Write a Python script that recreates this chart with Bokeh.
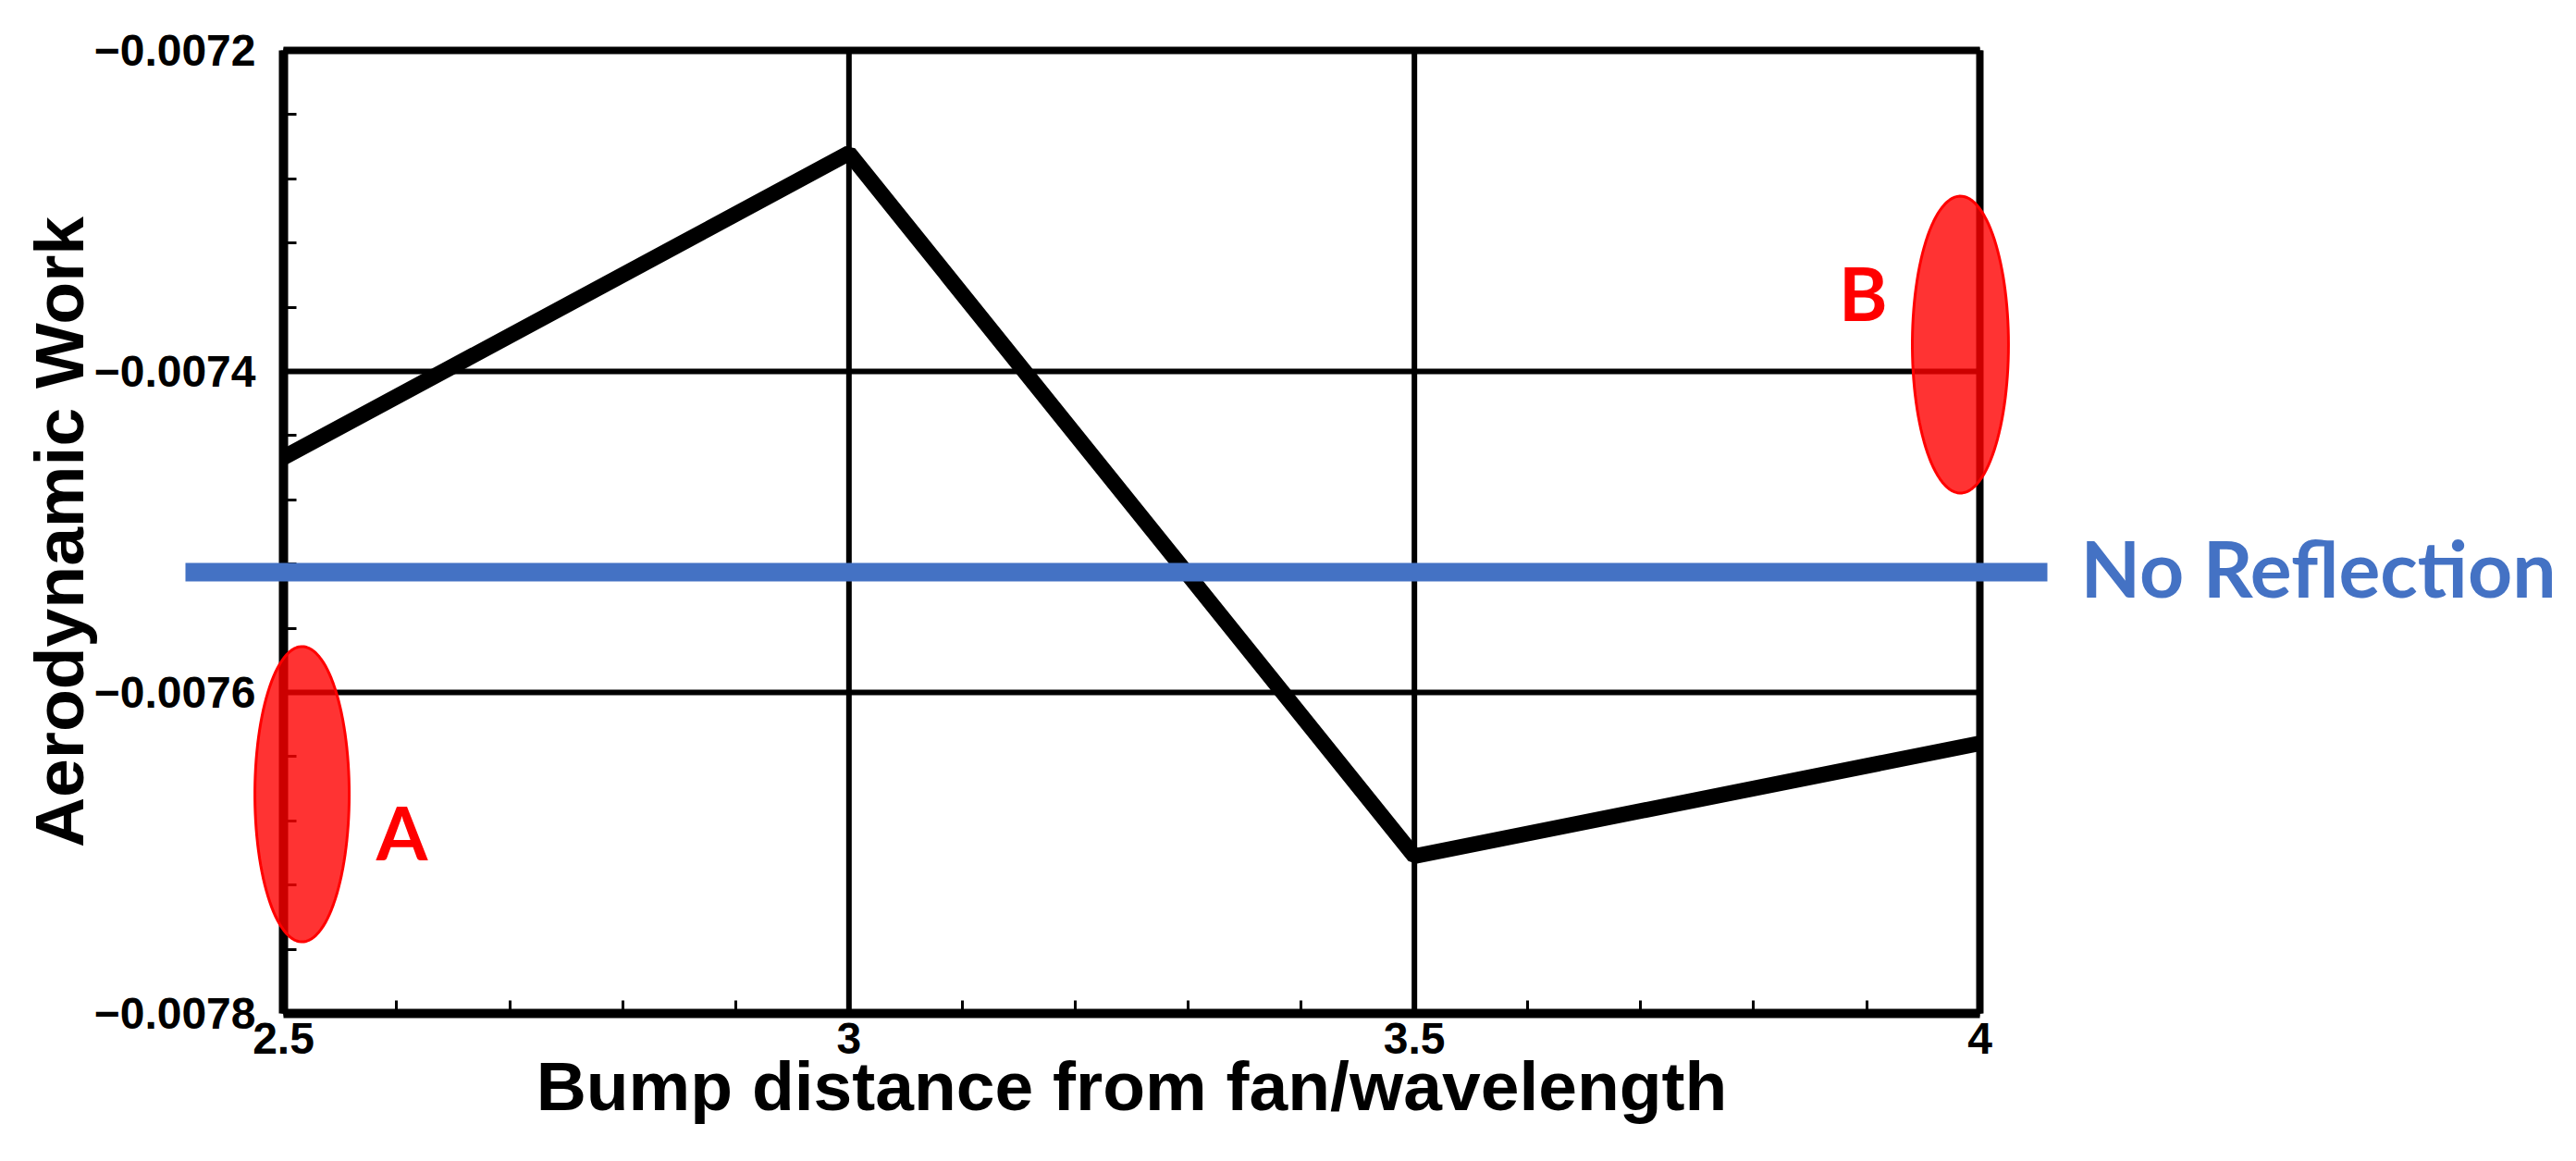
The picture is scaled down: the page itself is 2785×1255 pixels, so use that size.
import numpy as np
from bokeh.plotting import figure
from bokeh.models import Range1d, FixedTicker, Arrow, Label, PolyAnnotation
from bokeh.embed import file_html
from bokeh.resources import INLINE

# ---- data ----
bump_distance = [2.5, 3.0, 3.5, 4.0]
aero_work = [-0.0074536, -0.007264, -0.007702, -0.0076317]
no_reflection = -0.007525

x_ticks = [2.5, 3.0, 3.5, 4.0]
x_tick_labels = ["2.5", "3", "3.5", "4"]
y_ticks = [-0.0078, -0.0076, -0.0074, -0.0072]
y_tick_labels = ["\u22120.0078", "\u22120.0076", "\u22120.0074", "\u22120.0072"]

x_title = "Bump distance from fan/wavelength"
y_title = "Aerodynamic Work"

# annotations (ellipse centre x, y, width, height) and their letters
marks = ["A", "B"]
mark_centers = [(2.5164, -0.0076634), (3.9828, -0.0073833)]
mark_sizes = [(0.0834, 0.000184), (0.085, 0.000185)]
mark_label_pos = [(2.6047, -0.0076865), (3.8969, -0.007351)]

TEXT_FONT = "Liberation Sans"
ANN_FONT = "Lato"

# ---- layout: the frame covers the whole canvas, the "box" is drawn inside ----
W, H = 2769, 1239
X0, X1 = x_ticks[0], x_ticks[-1]
Y0, Y1 = y_ticks[0], y_ticks[-1]
BOX_L, BOX_R, BOX_T, BOX_B = 306, 2140, 54, 1095   # canvas pixels of the axes box
kx = (BOX_R - BOX_L) / (X1 - X0)
ky = (BOX_B - BOX_T) / (Y1 - Y0)
x_range = Range1d(X0 - BOX_L / kx, X1 + (W - BOX_R) / kx)
y_range = Range1d(Y0 - (H - BOX_B) / ky, Y1 + BOX_T / ky)

p = figure(width=W, height=H, x_range=x_range, y_range=y_range,
           output_backend="svg", toolbar_location=None,
           min_border=0)
p.background_fill_color = "white"
p.border_fill_color = "white"
p.outline_line_color = None
p.grid.visible = False

minor_x = [round(X0 + 0.1 * i, 3) for i in range(16)]
minor_y = [round(Y0 + 0.00004 * i, 6) for i in range(16)]
p.xaxis.ticker = FixedTicker(ticks=x_ticks, minor_ticks=minor_x)
p.yaxis.ticker = FixedTicker(ticks=y_ticks, minor_ticks=minor_y)
p.xaxis.major_label_overrides = {t: s for t, s in zip(x_ticks, x_tick_labels)}
p.yaxis.major_label_overrides = {t: s for t, s in zip(y_ticks, y_tick_labels)}
p.xaxis.axis_label = x_title
p.yaxis.axis_label = y_title
p.xaxis.fixed_location = Y0
p.yaxis.fixed_location = X0
p.xaxis.bounds = (X0, X1)
p.yaxis.bounds = (Y0, Y1)

# grid lines and box (top/right edges)
p.segment(x0=x_ticks, y0=[Y0] * len(x_ticks), x1=x_ticks, y1=[Y1] * len(x_ticks),
          line_color="black", line_width=6)
p.segment(x0=[X0] * len(y_ticks), y0=y_ticks, x1=[X1] * len(y_ticks), y1=y_ticks,
          line_color="black", line_width=6)
p.segment(x0=[X0, X1], y0=[Y1, Y0], x1=[X1, X1], y1=[Y1, Y1],
          line_color="black", line_width=8)

for ax in (p.xaxis[0], p.yaxis[0]):
    ax.axis_line_color = "black"
    ax.axis_line_width = 10
    ax.major_tick_in = 0
    ax.major_tick_out = 0
    ax.minor_tick_in = 14
    ax.minor_tick_out = 0
    ax.minor_tick_line_width = 3
    ax.minor_tick_line_color = "black"
    ax.major_label_text_font = TEXT_FONT
    ax.major_label_text_font_style = "bold"
    ax.major_label_text_font_size = "48px"
    ax.major_label_text_color = "black"
    ax.axis_label_text_font = TEXT_FONT
    ax.axis_label_text_font_style = "bold"
    ax.axis_label_text_font_size = "75px"
    ax.axis_label_text_color = "black"

p.xaxis.major_label_standoff = 10
p.xaxis.axis_label_standoff = -10
p.yaxis.major_label_standoff = 30
p.yaxis.axis_label_standoff = -7

p.line(bump_distance, aero_work, line_color="black", line_width=17)

# No Reflection reference line (extends beyond the box)
p.add_layout(Arrow(x_start=2.4133, y_start=no_reflection,
                   x_end=4.0597, y_end=no_reflection,
                   start=None, end=None,
                   line_color="#4472C4", line_width=20))
p.add_layout(Label(x=4.0892, y=no_reflection, y_offset=5, text="No Reflection",
                   text_font=ANN_FONT, text_font_style="bold",
                   text_font_size="84px", text_color="#4472C4",
                   text_align="left", text_baseline="middle"))

t = np.linspace(0, 2 * np.pi, 120)
for name, (cx, cy), (w, h), (lx, ly) in zip(marks, mark_centers, mark_sizes, mark_label_pos):
    xs = list(cx + 0.5 * w * np.cos(t))
    ys = list(cy + 0.5 * h * np.sin(t))
    p.add_layout(PolyAnnotation(xs=xs, ys=ys, fill_color="#FF0000", fill_alpha=0.8,
                                line_color="#FF0000", line_width=3, line_alpha=1.0))
    p.add_layout(Label(x=lx, y=ly, text=name, text_font=ANN_FONT,
                       text_font_style="bold", text_font_size="80px",
                       text_color="#FF0000", text_align="center",
                       text_baseline="middle"))

open("out.html", "w").write(file_html(p, INLINE))
